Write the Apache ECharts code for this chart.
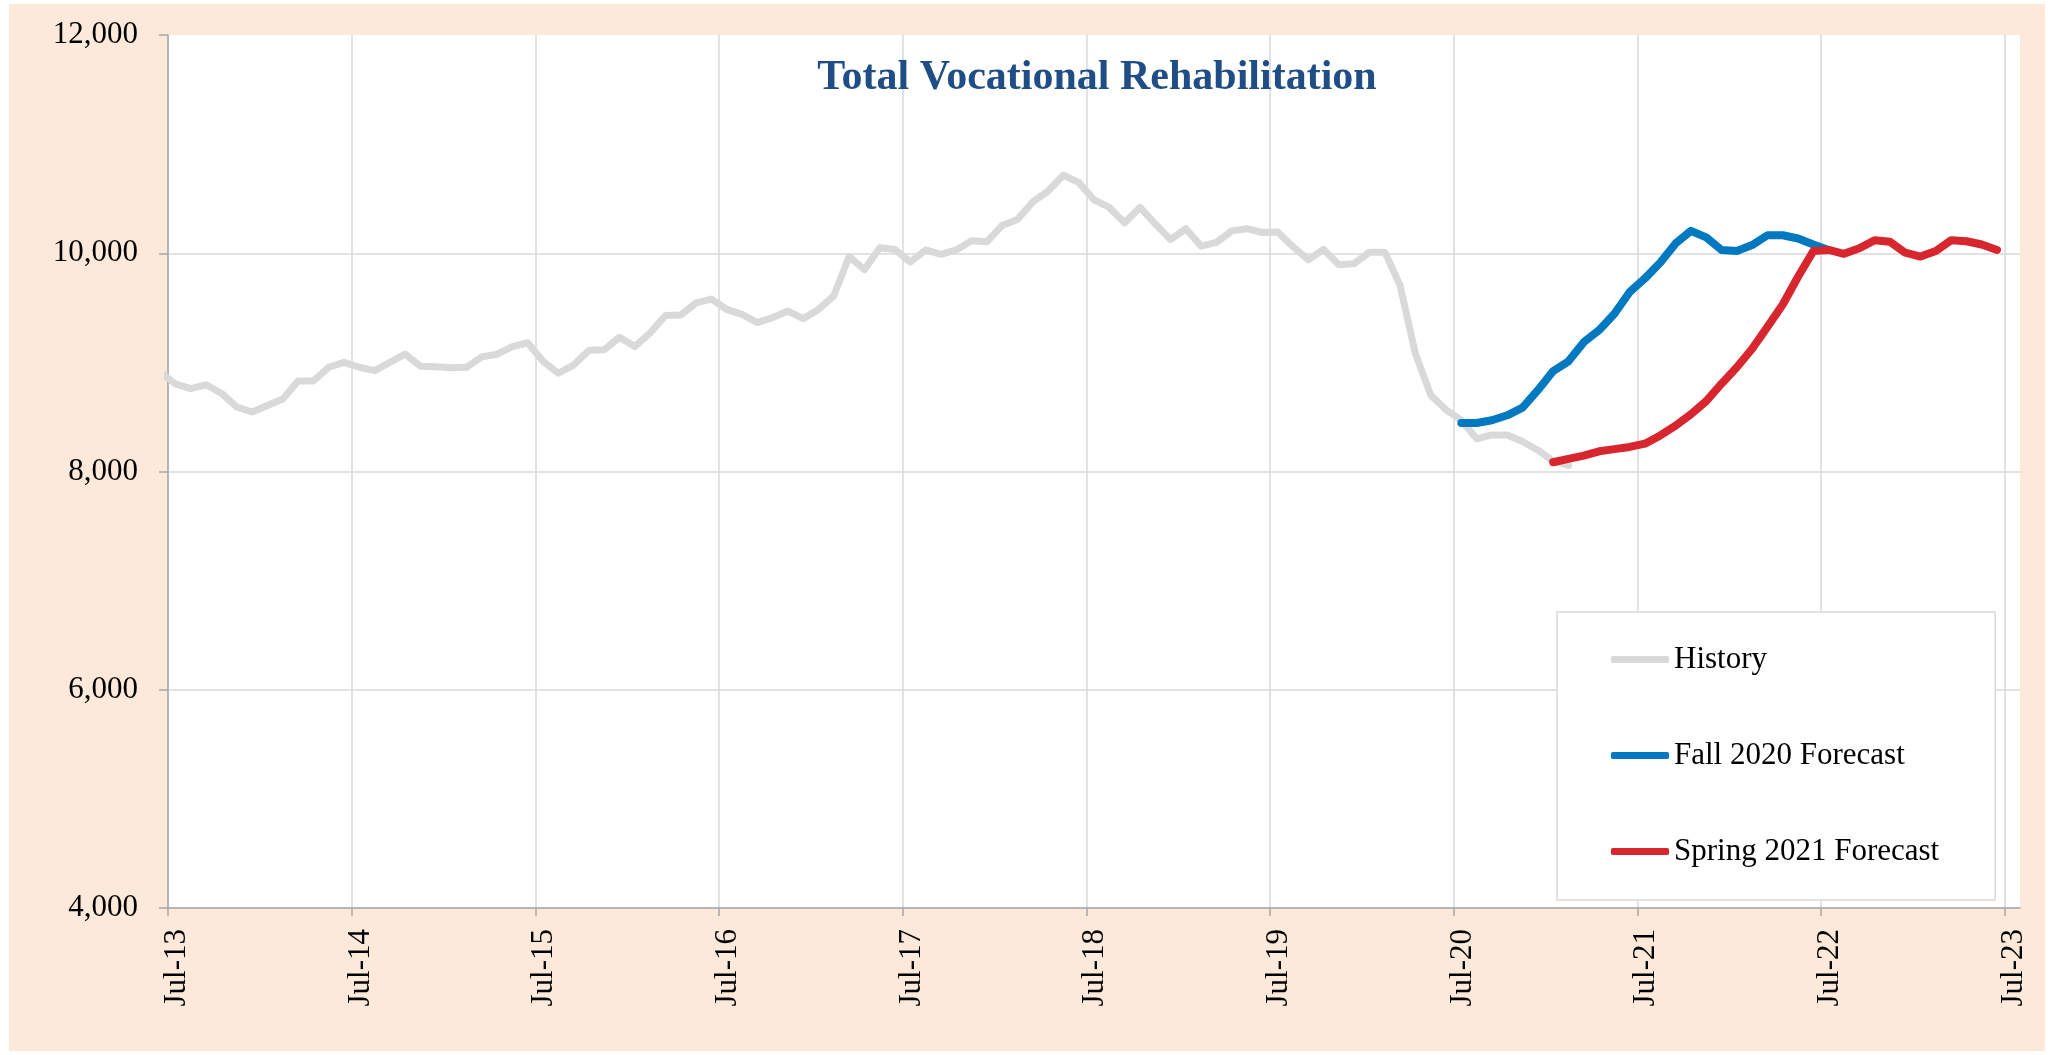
<!DOCTYPE html>
<html>
<head>
<meta charset="utf-8">
<title>Total Vocational Rehabilitation</title>
<script src="https://cdn.jsdelivr.net/npm/echarts@6/dist/echarts.min.js"></script>
<style>
  html, body { margin: 0; padding: 0; background: #fff; }
  #frame { position: absolute; left: 9px; top: 4px; right: 9px; bottom: 4px; background: #FDE9D9; }
  #chart { position: absolute; left: 0; top: 0; width: 2054px; height: 1055px; }
</style>
</head>
<body>
<div id="frame"></div>
<div id="chart"></div>
<script>
// months are counted from Jul-13 (0); each point sits at mid-month
const yearTicks = [0, 12, 24, 36, 48, 60, 72, 84, 96, 108, 120]
const yearLabels = ['Jul-13', 'Jul-14', 'Jul-15', 'Jul-16', 'Jul-17', 'Jul-18', 'Jul-19', 'Jul-20', 'Jul-21', 'Jul-22', 'Jul-23']

// History: Jun-13 .. Jan-21
const historyStart = -1
const history = [
  8910, 8800, 8760, 8795, 8715, 8590, 8545, 8605, 8665, 8830, 8830, 8955, 9000,
  8955, 8925, 9000, 9075, 8965, 8960, 8950, 8955, 9050, 9075, 9145, 9180,
  9010, 8900, 8975, 9110, 9115, 9230, 9145, 9270, 9430, 9435, 9545, 9580,
  9485, 9440, 9365, 9410, 9470, 9400, 9485, 9610, 9970, 9850, 10050, 10035,
  9920, 10030, 9990, 10030, 10115, 10105, 10255, 10310, 10470, 10570, 10715, 10650,
  10490, 10420, 10280, 10420, 10270, 10125, 10225, 10065, 10100, 10205, 10225, 10190,
  10195, 10060, 9940, 10035, 9895, 9905, 10010, 10010, 9705, 9080, 8700, 8565,
  8470, 8300, 8335, 8335, 8275, 8195, 8095, 8055
]

// Fall 2020 Forecast: Jul-20 .. Jul-22
const fallStart = 84
const fall2020 = [
  8445, 8445, 8470, 8515, 8585, 8745, 8920, 9010, 9185, 9295, 9445, 9645,
  9770, 9915, 10090, 10205, 10145, 10030, 10020, 10075, 10165, 10165, 10135, 10080,
  10030
]

// Spring 2021 Forecast: Jan-21 .. Jun-23
const springStart = 90
const spring2021 = [
  8085, 8115, 8145, 8185, 8205, 8225,
  8255, 8330, 8420, 8525, 8645, 8805, 8955, 9125, 9325, 9530, 9785, 10020,
  10030, 9995, 10045, 10120, 10105, 10005, 9970, 10020, 10120, 10110, 10080, 10030
]

const toPoints = (start, values) => values.map((v, k) => [start + k + 0.5, v])

const font = 'Liberation Serif, Times New Roman, serif'
const gridColor = '#D9D9D9'
const axisColor = '#A6A6A6'
const none = 'rgba(0,0,0,0)'

const chart = echarts.init(document.getElementById('chart'))
chart.setOption({
  backgroundColor: 'transparent',
  animation: false,
  title: {
    text: 'Total Vocational Rehabilitation',
    left: 1097,
    top: 57,
    textAlign: 'center',
    padding: 0,
    textStyle: {
      fontFamily: font,
      fontSize: 42,
      fontWeight: 'bold',
      color: '#1F4E86'
    }
  },
  grid: {
    left: 168,
    top: 35,
    right: 34,
    bottom: 147,
    show: true,
    backgroundColor: '#fff',
    borderWidth: 0
  },
  legend: {
    orient: 'vertical',
    left: 1557,
    top: 612,
    padding: [32, 56, 33, 54],
    itemGap: 65,
    itemWidth: 58,
    itemHeight: 7,
    icon: 'roundRect',
    backgroundColor: '#fff',
    borderColor: '#D9D9D9',
    borderWidth: 1.5,
    textStyle: {
      fontFamily: font,
      fontSize: 31,
      lineHeight: 31,
      color: '#000'
    },
    data: ['History', 'Fall 2020 Forecast', 'Spring 2021 Forecast']
  },
  xAxis: {
    type: 'value',
    min: 0,
    max: 121,
    axisLine: { show: true, onZero: false, lineStyle: { color: axisColor, width: 1.5 } },
    axisTick: { show: true, length: 8, customValues: yearTicks, lineStyle: { color: axisColor, width: 1.5 } },
    splitLine: {
      show: true,
      lineStyle: { color: yearTicks.map(() => gridColor).concat([none]), width: 1.5 }
    },
    axisLabel: {
      customValues: yearTicks,
      rotate: 90,
      margin: 21,
      verticalAlign: 'top',
      lineHeight: 18,
      fontFamily: font,
      fontSize: 31,
      color: '#000',
      formatter: v => yearLabels[yearTicks.indexOf(v)] || ''
    }
  },
  yAxis: {
    type: 'value',
    min: 4000,
    max: 12000,
    interval: 2000,
    axisLine: { show: true, lineStyle: { color: axisColor, width: 1.5 } },
    axisTick: { show: true, length: 9, lineStyle: { color: axisColor, width: 1.5 } },
    splitLine: {
      show: true,
      showMaxLine: false,
      lineStyle: { color: gridColor, width: 1.5 }
    },
    axisLabel: {
      margin: 30,
      fontFamily: font,
      fontSize: 31,
      color: '#000',
      formatter: v => v.toLocaleString('en-US')
    }
  },
  series: [
    {
      name: 'History',
      type: 'line',
      symbol: 'none',
      data: toPoints(historyStart, history),
      lineStyle: { color: '#D9D9D9', width: 7, cap: 'round', join: 'round' },
      itemStyle: { color: '#D9D9D9' }
    },
    {
      name: 'Fall 2020 Forecast',
      type: 'line',
      symbol: 'none',
      data: toPoints(fallStart, fall2020),
      lineStyle: { color: '#0079C1', width: 8, cap: 'round', join: 'round' },
      itemStyle: { color: '#0079C1' }
    },
    {
      name: 'Spring 2021 Forecast',
      type: 'line',
      symbol: 'none',
      data: toPoints(springStart, spring2021),
      lineStyle: { color: '#D8262E', width: 8, cap: 'round', join: 'round' },
      itemStyle: { color: '#D8262E' }
    }
  ]
})
</script>
</body>
</html>
